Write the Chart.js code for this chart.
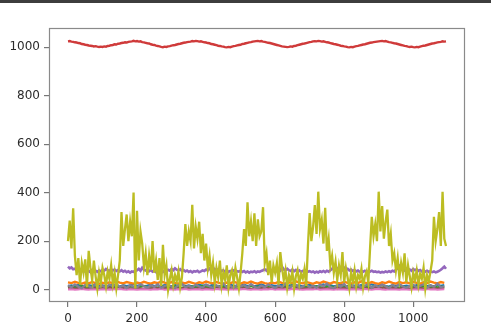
<!DOCTYPE html>
<html lang="en">
<head>
<meta charset="UTF-8">
<title>Series plot</title>
<script src="https://cdn.jsdelivr.net/npm/chart.js"></script>
<style>
  html, body { margin: 0; padding: 0; background: #fff; }
  .wrap { position: relative; width: 491px; height: 332px; overflow: hidden; }
  .top-bar { position: absolute; left: 0; top: 0; width: 491px; height: 3px; background: #3d3d3d; }
  canvas { position: absolute; left: 0; top: 0; }
</style>
</head>
<body>
<div class="wrap">
  <canvas id="seriesChart" width="491" height="332"></canvas>
  <div class="top-bar"></div>
</div>
<script>
// tick labels
const xTicks = [0, 200, 400, 600, 800, 1000];
const yTicks = [0, 200, 400, 600, 800, 1000];

// sample spacing along x
const fineStep = 5;
const coarseStep = 10;

// fine series (one value every 5 steps, x = 0..1095)
const redSeries = [
  1024,1025,1023,1022,1020,1019,1017,1016,1013,1012,1010,1009,1007,1006,1005,1003,1004,1002,1001,1002,
  1001,1003,1002,1005,1006,1008,1009,1012,1011,1014,1015,1017,1018,1020,1019,1022,1023,1024,1026,1024,
  1025,1023,1024,1021,1020,1018,1016,1015,1012,1010,1009,1006,1005,1003,1001,1000,1002,1001,1003,1004,
  1006,1008,1009,1011,1013,1014,1016,1018,1019,1021,1022,1023,1025,1024,1026,1025,1023,1024,1022,1020,
  1019,1017,1016,1013,1012,1010,1008,1006,1005,1003,1002,1000,999,1001,1000,1002,1004,1005,1007,1009,
  1010,1013,1014,1016,1018,1020,1021,1023,1024,1025,1026,1024,1025,1023,1022,1020,1018,1017,1015,1013,
  1011,1009,1007,1005,1003,1002,1001,1000,1001,1003,1002,1005,1006,1008,1010,1012,1014,1015,1017,1019,
  1021,1022,1024,1025,1024,1026,1025,1023,1024,1022,1020,1019,1017,1015,1013,1012,1010,1008,1006,1005,
  1003,1002,1000,999,1001,1000,1002,1004,1005,1007,1009,1011,1012,1014,1016,1018,1019,1021,1022,1023,
  1024,1025,1026,1024,1025,1023,1021,1020,1018,1016,1015,1013,1011,1009,1007,1005,1004,1002,1001,1002,
  1000,999,1001,1000,1002,1004,1006,1007,1009,1011,1013,1015,1016,1018,1020,1021,1022,1024,1023,1024
];

const purpleSeries = [
  95,88,92,84,86,80,78,83,76,79,74,80,77,72,81,75,78,73,79,76,
  82,78,85,80,76,84,79,83,77,81,75,80,74,78,72,76,70,75,73,78,
  80,86,78,90,82,79,84,76,81,74,78,72,77,75,80,73,79,76,82,78,
  85,80,88,82,79,84,77,81,75,79,73,77,71,76,74,78,72,75,79,77,
  83,79,87,81,92,80,85,78,82,76,80,74,78,73,77,75,79,72,76,74,
  78,73,77,71,75,70,74,72,76,71,75,73,77,80,84,78,88,82,79,85,
  80,76,82,78,94,83,79,86,80,77,83,76,81,74,79,73,77,75,80,74,
  76,72,75,70,74,71,76,73,77,72,78,74,80,85,96,82,88,79,84,80,
  90,82,86,79,83,77,81,75,79,73,77,74,78,72,76,74,78,73,75,72,
  74,70,73,71,75,72,76,73,78,75,82,88,97,84,90,80,86,79,83,78,
  85,80,84,77,81,75,79,74,78,73,76,72,75,71,74,77,82,88,95,86
];

const oliveSeries = [
  200,285,170,335,140,60,130,20,110,70,125,10,160,90,40,120,55,5,70,30,
  90,60,15,75,45,100,25,70,5,60,120,320,180,250,310,200,280,220,400,5,
  325,120,240,190,95,150,60,140,80,200,70,120,40,130,15,185,60,100,0,45,
  80,20,60,35,75,10,50,150,270,180,240,200,350,170,260,210,280,150,230,120,
  190,90,140,60,110,30,90,50,120,20,70,40,100,10,60,80,30,90,50,5,
  70,150,250,180,360,220,280,200,315,180,290,220,240,340,110,150,60,120,30,100,
  70,110,20,155,90,40,80,10,60,35,75,5,55,80,25,65,45,85,15,180,
  316,200,260,349,230,404,250,288,190,337,160,210,100,140,70,115,40,100,60,155,
  30,90,50,5,70,35,80,15,60,45,85,10,55,75,30,170,300,220,270,200,
  404,240,345,210,280,330,180,230,120,150,80,130,50,110,70,150,30,100,55,10,
  70,40,80,20,65,45,90,5,60,35,75,120,300,200,250,320,180,404,210,180
];

// coarse series near zero (one value every 10 steps, x = 0..1090)
const blueSeries = [
  15,18,14,20,17,13,19,16,21,15, 18,14,17,20,16,13,19,15,18,22,
  16,19,14,17,21,15,18,13,20,16, 14,19,17,22,15,18,13,16,20,17,
  19,15,21,16,13,18,14,20,17,15, 17,21,15,19,14,18,22,16,13,19,
  15,18,20,14,17,21,16,19,13,17, 20,16,13,18,22,15,19,14,17,21,
  16,14,19,17,13,20,15,18,22,16, 18,21,15,13,19,16,20,14,17,15,
  14,19,17,21,15,18,13,20,16,19
];

const orangeSeries = [
  30,27,32,28,25,29,26,31,27,24, 28,25,30,27,33,29,26,31,28,25,
  29,26,32,28,25,30,27,33,29,26, 31,28,25,29,26,32,28,24,30,27,
  33,29,26,31,27,24,29,26,32,28, 25,30,27,33,28,25,31,27,24,29,
  26,32,28,25,30,27,34,29,26,31, 28,24,30,27,33,29,25,31,28,26,
  32,28,25,30,27,34,29,26,31,27, 24,30,27,33,28,25,31,27,30,26,
  32,28,25,30,27,33,29,26,31,28
];

const greenSeries = [
  10,13,9,12,15,11,8,14,10,12, 13,9,11,15,12,8,14,10,13,11,
  9,12,16,10,13,11,8,14,12,10, 12,15,10,8,13,11,14,9,12,16,
  11,8,13,10,15,12,9,14,11,13, 14,10,12,16,9,13,11,8,15,10,
  8,13,11,14,10,16,12,9,13,11, 13,9,15,11,8,12,14,10,16,12,
  10,14,12,9,13,11,15,8,12,14, 12,8,14,10,16,11,9,13,10,15,
  9,13,11,15,12,8,14,10,13,11
];

const brownSeries = [
  6,8,5,7,9,6,4,8,7,5, 7,5,9,6,8,4,7,9,5,6,
  8,6,4,7,5,9,6,8,7,5, 5,9,7,6,8,5,7,4,9,6,
  7,4,8,6,9,7,5,8,6,4, 9,6,7,5,4,8,6,9,7,5,
  6,8,5,9,7,4,8,6,5,7, 4,7,9,6,8,5,7,4,8,6,
  8,5,6,9,4,7,8,5,6,9, 6,9,7,4,8,6,5,9,7,5,
  7,5,8,6,9,4,7,5,8,6
];

const pinkSeries = [
  1,2,0,1,3,1,0,2,1,0, 2,1,0,1,2,3,1,0,2,1,
  0,1,2,1,0,2,1,3,0,1, 1,0,2,1,3,0,1,2,1,0,
  2,1,0,3,1,2,0,1,2,1, 1,3,1,0,2,1,0,2,1,3,
  0,2,1,1,0,3,2,1,0,1, 2,1,3,0,1,2,1,0,2,1,
  1,0,2,1,2,0,3,1,0,2, 3,1,0,2,1,1,0,2,1,0,
  1,2,1,0,3,1,2,0,1,2
];

const graySeries = [
  18,9,22,12,6,20,14,8,24,11, 16,7,21,13,25,10,17,6,19,12,
  9,23,14,8,18,11,22,7,15,20, 12,6,19,24,10,16,8,21,13,9,
  22,14,7,18,11,25,9,16,6,20, 13,19,8,23,12,7,17,10,21,14,
  6,18,11,24,9,15,20,8,13,22, 10,16,7,21,14,25,11,6,19,12,
  23,8,17,12,20,9,15,24,7,18, 11,21,14,6,19,10,23,13,8,16,
  20,9,15,22,7,18,12,25,10,14
];

function toPoints(values, step) {
  return values.map((v, i) => ({ x: i * step, y: v }));
}

// same order as the matplotlib colour cycle, olive ends up on top
const seriesList = [
  { values: blueSeries, step: coarseStep, color: '#1f77b4', width: 2 },
  { values: orangeSeries, step: coarseStep, color: '#ff7f0e', width: 2.4 },
  { values: greenSeries, step: coarseStep, color: '#2ca02c', width: 2 },
  { values: redSeries, step: fineStep, color: '#cf3a3a', width: 2.4 },
  { values: purpleSeries, step: fineStep, color: '#9467bd', width: 2.6 },
  { values: brownSeries, step: coarseStep, color: '#8c564b', width: 2 },
  { values: pinkSeries, step: coarseStep, color: '#e377c2', width: 2 },
  { values: graySeries, step: coarseStep, color: '#857f95', width: 2.2 },
  { values: oliveSeries, step: fineStep, color: '#bcbd22', width: 2.3 }
];

const datasets = seriesList.map((s, i) => ({
  data: toPoints(s.values, s.step),
  borderColor: s.color,
  borderWidth: s.width,
  pointRadius: 0,
  fill: false,
  tension: 0,
  order: seriesList.length - i
}));

// box around the plot area
const frameBox = {
  id: 'frameBox',
  afterDatasetsDraw(chart) {
    const { ctx, chartArea: a } = chart;
    ctx.save();
    ctx.strokeStyle = '#8a8a8a';
    ctx.lineWidth = 1.2;
    ctx.strokeRect(a.left + 0.5, a.top + 0.5, a.right - a.left - 1, a.bottom - a.top - 1);
    ctx.restore();
  }
};

const tickFont = { family: 'DejaVu Sans', size: 12 };

new Chart(document.getElementById('seriesChart').getContext('2d'), {
  type: 'line',
  data: { datasets: datasets },
  options: {
    responsive: false,
    animation: false,
    devicePixelRatio: 1,
    layout: { padding: { top: 28, right: 26, left: 0, bottom: 0 } },
    plugins: { legend: { display: false }, tooltip: { enabled: false } },
    scales: {
      x: {
        type: 'linear',
        min: -55,
        max: 1150,
        afterBuildTicks: s => { s.ticks = xTicks.map(v => ({ value: v })); },
        afterFit: s => { s.height = 30; },
        grid: { drawOnChartArea: false, tickLength: 5, color: '#777', lineWidth: 1.2 },
        border: { display: false },
        ticks: { padding: 5, color: '#2b2b2b', font: tickFont, maxRotation: 0, autoSkip: false, callback: v => String(v) }
      },
      y: {
        type: 'linear',
        min: -51,
        max: 1079,
        afterBuildTicks: s => { s.ticks = yTicks.map(v => ({ value: v })); },
        afterFit: s => { s.width = 49; },
        grid: { drawOnChartArea: false, tickLength: 5, color: '#777', lineWidth: 1.2 },
        border: { display: false },
        ticks: { padding: 4, color: '#2b2b2b', font: tickFont, autoSkip: false, callback: v => String(v) }
      }
    }
  },
  plugins: [frameBox]
});
</script>
</body>
</html>
